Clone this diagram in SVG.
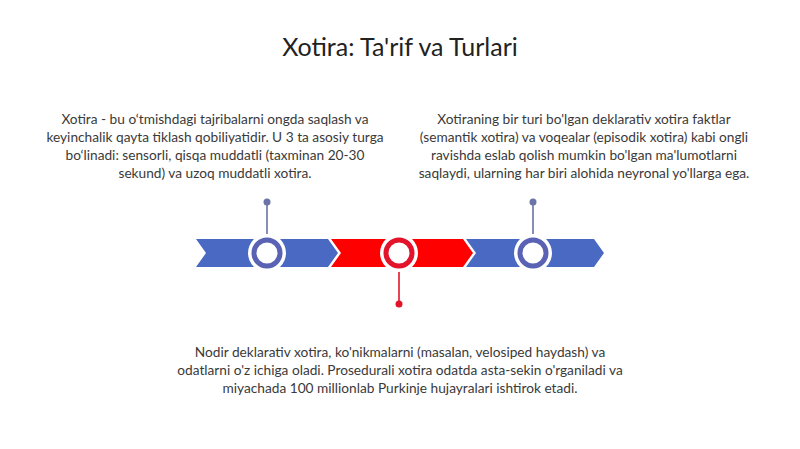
<svg xmlns="http://www.w3.org/2000/svg" width="800" height="449" viewBox="0 0 800 449">
<style>
text{font-family:Lato,"Carlito","Liberation Sans",sans-serif;fill:#3a3a3a;text-anchor:middle}
.t{font-size:25px;fill:#222}
.p{font-size:13.7px}
.blue{fill:#4a69c2}
.red{fill:#ff0000}
.ringb{fill:#fff;stroke:#5a62b4;stroke-width:5}
.ringr{fill:#fff;stroke:#e3132b;stroke-width:5}
.halo{fill:#fff}
.stemb{stroke:#6a74a6;stroke-width:1.6}
.stemr{stroke:#e3132b;stroke-width:1.6}
</style>
<rect width="800" height="449" fill="#fff"/>
<g id="title"><text class="t" x="400" y="56">Xotira: Ta'rif va Turlari</text></g>
<g id="timeline">
<polygon class="blue" points="196,239 328,239 338,253 328,267 196,267 206,253"/>
<polygon class="red" points="331,239 463,239 473,253 463,267 331,267 341,253"/>
<polygon class="blue" points="466,239 594,239 604,253 594,267 466,267 476,253"/>
</g>
<g id="connectors">
<line class="stemb" x1="267" y1="202" x2="267" y2="236"/>
<circle cx="267" cy="202" r="3.5" fill="#6a74a6"/>
<line class="stemb" x1="533" y1="202" x2="533" y2="236"/>
<circle cx="533" cy="202" r="3.5" fill="#6a74a6"/>
<line class="stemr" x1="399" y1="270" x2="399" y2="304"/>
<circle cx="399" cy="304" r="3.5" fill="#e3132b"/>
</g>
<g id="node1">
<circle class="halo" cx="267" cy="253" r="19"/>
<circle class="ringb" cx="267" cy="253" r="13"/>
<text class="p" x="215" y="124">Xotira - bu o‘tmishdagi tajribalarni ongda saqlash va</text>
<text class="p" x="215" y="142">keyinchalik qayta tiklash qobiliyatidir. U 3 ta asosiy turga</text>
<text class="p" x="215" y="160">bo‘linadi: sensorli, qisqa muddatli (taxminan 20-30</text>
<text class="p" x="215" y="178">sekund) va uzoq muddatli xotira.</text>
</g>
<g id="node2">
<circle class="halo" cx="399" cy="253" r="19"/>
<circle class="ringr" cx="399" cy="253" r="13"/>
<text class="p" x="400" y="357">Nodir deklarativ xotira, ko'nikmalarni (masalan, velosiped haydash) va</text>
<text class="p" x="400" y="375">odatlarni o'z ichiga oladi. Prosedurali xotira odatda asta-sekin o'rganiladi va</text>
<text class="p" x="400" y="393">miyachada 100 millionlab Purkinje hujayralari ishtirok etadi.</text>
</g>
<g id="node3">
<circle class="halo" cx="533" cy="253" r="19"/>
<circle class="ringb" cx="533" cy="253" r="13"/>
<text class="p" x="584" y="124">Xotiraning bir turi bo'lgan deklarativ xotira faktlar</text>
<text class="p" x="584" y="142">(semantik xotira) va voqealar (episodik xotira) kabi ongli</text>
<text class="p" x="584" y="160">ravishda eslab qolish mumkin bo'lgan ma'lumotlarni</text>
<text class="p" x="584" y="178">saqlaydi, ularning har biri alohida neyronal yo'llarga ega.</text>
</g>
</svg>
